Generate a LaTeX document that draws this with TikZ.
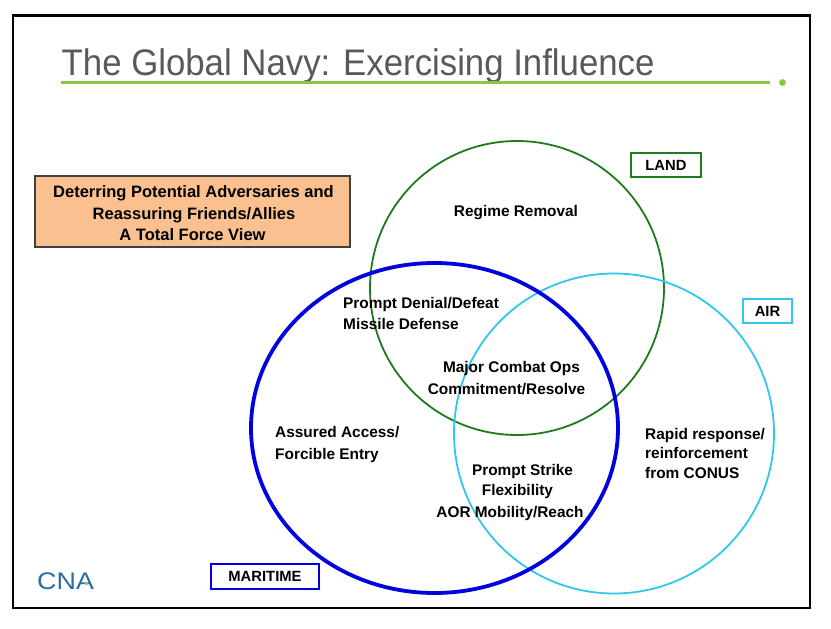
\documentclass[tikz,border=0pt]{standalone}
\usepackage{fontspec}
\setmainfont{Liberation Sans}
\definecolor{titlegray}{HTML}{595959}
\definecolor{rulegreen}{HTML}{8CC63E}
\definecolor{landgreen}{HTML}{1E7B1E}
\definecolor{seablue}{HTML}{0000E0}
\definecolor{aircyan}{HTML}{30C8EA}
\definecolor{peach}{HTML}{FAC090}
\definecolor{cnablue}{HTML}{2B6EA5}
\begin{document}
\begin{tikzpicture}[x=1pt,y=-1pt,
  lbl/.style={font=\fontsize{15.4}{21}\selectfont\bfseries, text=black, inner sep=0pt},
  boxtxt/.style={font=\fontsize{16.5}{21}\selectfont\bfseries, text=black, inner sep=0pt},
  tagbox/.style={draw, line width=2pt, inner sep=0pt, font=\fontsize{14.8}{18}\selectfont\bfseries, text=black}]
\useasboundingbox (0,0) rectangle (831,629);
\fill[white] (0,0) rectangle (831,629);
% frame
\draw[line width=2.7pt, black] (13,15.5) rectangle (810,608);
% title
\node[anchor=base west, inner sep=0pt, text=titlegray, font=\fontsize{37}{40}\selectfont] (title) at (61.5,75) {\scalebox{0.94}[1]{The Global Navy: Exercising Influence}};
\coordinate (rs) at (61,82.5);
\coordinate (re) at (770,82.5);
\draw[rulegreen, line width=2.5pt] (rs) -- (re);
\fill[rulegreen] (782.5,82.5) circle [radius=3.4];
% circles
\draw[landgreen, line width=1.8pt] (517,288) circle [radius=147];
\draw[aircyan, line width=1.8pt] (614,433.5) circle [radius=160];
\draw[seablue, line width=3.8pt] (434.5,428) ellipse [x radius=183.5, y radius=165];
% orange box
\node[draw=black!75, line width=1.5pt, fill=peach, minimum width=315, minimum height=71, inner sep=0pt] (obox) at (192.5,211.5) {};
\node[boxtxt, anchor=base] (o1) at (193.5,197.3) {Deterring Potential Adversaries and};
\node[boxtxt, anchor=base] (o2) at (194,219) {Reassuring Friends/Allies};
\node[boxtxt, anchor=base] (o3) at (192.5,240.5) {A Total Force View};
% tags
\node[tagbox, draw=landgreen, minimum width=70, minimum height=24] (land) at (666,165) {LAND};
\node[tagbox, draw=aircyan, minimum width=49, minimum height=24] (air) at (767.5,311) {AIR};
\node[tagbox, draw=seablue, minimum width=108, minimum height=25] (maritime) at (265,576.5) {MARITIME};
% region texts
\node[lbl, anchor=base] (rr) at (516,216) {Regime Removal};
\node[lbl, anchor=base west] (pd1) at (343,308.5) {Prompt Denial/Defeat};
\node[lbl, anchor=base west] (pd2) at (343,329.5) {Missile Defense};
\node[lbl, anchor=base] (mc1) at (511.5,372.5) {Major Combat Ops};
\node[lbl, anchor=base] (mc2) at (506.5,394) {Commitment/Resolve};
\node[lbl, anchor=base west] (aa1) at (275,437.7) {Assured Access/};
\node[lbl, anchor=base west] (aa2) at (275,459) {Forcible Entry};
\node[lbl, anchor=base] (ps1) at (522.5,475) {Prompt Strike};
\node[lbl, anchor=base] (ps2) at (517.5,495.5) {Flexibility};
\node[lbl, anchor=base] (ps3) at (510,517) {AOR Mobility/Reach};
\node[lbl, anchor=base west] (rp1) at (645,439.3) {Rapid response/};
\node[lbl, anchor=base west] (rp2) at (645,458.5) {reinforcement};
\node[lbl, anchor=base west] (rp3) at (645,478) {from CONUS};
% logo
\node[anchor=base west, inner sep=0pt, text=cnablue, font=\fontsize{24}{26}\selectfont] (cna) at (37,589) {\scalebox{1.12}[1]{CNA}};
\fill[rulegreen] (86.5,583.5) circle [radius=1.9];
\end{tikzpicture}
\end{document}
